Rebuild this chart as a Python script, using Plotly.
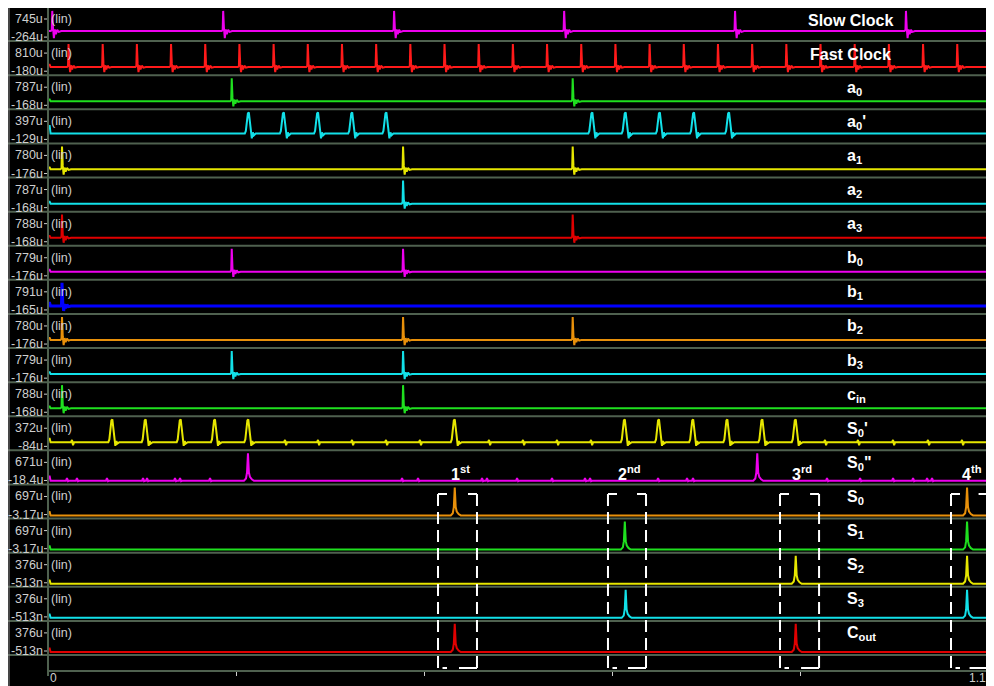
import plotly.graph_objects as go

# ---- data ------------------------------------------------------------------
X_END = 1.1
X_TICKS = [0, 0.22, 0.44, 0.66, 0.88, 1.1]
X_TICK_TEXT = ["0", "", "", "", "", "1.1"]

PANEL_LABELS = [
    "Slow Clock", "Fast Clock", "a<sub>0</sub>", "a<sub>0</sub>'", "a<sub>1</sub>",
    "a<sub>2</sub>", "a<sub>3</sub>", "b<sub>0</sub>", "b<sub>1</sub>", "b<sub>2</sub>",
    "b<sub>3</sub>", "c<sub>in</sub>", "S<sub>0</sub>'", "S<sub>0</sub>\"", "S<sub>0</sub>",
    "S<sub>1</sub>", "S<sub>2</sub>", "S<sub>3</sub>", "C<sub>out</sub>",
]
PANEL_COLORS = [
    "#ee00ee", "#ff1a1a", "#1fe01f", "#12e0e8", "#e6e600",
    "#12e0e8", "#e00000", "#ee00ee", "#0000ff", "#e8900a",
    "#12e0e8", "#1fe01f", "#e6e600", "#ee00ee", "#e8900a",
    "#1fe01f", "#e6e600", "#12e0e8", "#e00000",
]
Y_TOP = [745e-6, 810e-6, 787e-6, 397e-6, 780e-6, 787e-6, 788e-6, 779e-6, 791e-6, 780e-6,
         779e-6, 788e-6, 372e-6, 671e-6, 697e-6, 697e-6, 376e-6, 376e-6, 376e-6]
Y_BOTTOM = [-264e-6, -180e-6, -168e-6, -129e-6, -176e-6, -168e-6, -168e-6, -176e-6, -165e-6,
            -176e-6, -176e-6, -168e-6, -84e-6, -18.4e-6, -3.17e-6, -3.17e-6, -513e-9,
            -513e-9, -513e-9]
Y_TOP_TEXT = ["745u", "810u", "787u", "397u", "780u", "787u", "788u", "779u", "791u", "780u",
              "779u", "788u", "372u", "671u", "697u", "697u", "376u", "376u", "376u"]
Y_BOTTOM_TEXT = ["-264u", "-180u", "-168u", "-129u", "-176u", "-168u", "-168u", "-176u",
                 "-165u", "-176u", "-176u", "-168u", "-84u", "-18.4u", "-3.17u", "-3.17u",
                 "-513n", "-513n", "-513n"]
START_LEVEL = [0.0, 0.1, 0.08, 0.35, 0.08, 0.08, 0.08, 0.08, 0.12, 0.08,
               0.08, 0.08, 0.15, 0.15, 0.12, 0.12, 0.12, 0.12, 0.12]
SPIKE_KIND = ["clock", "clock", "clock", "wide", "clock", "clock", "clock", "clock", "clock",
              "clock", "clock", "clock", "wide", "pulse", "pulse", "pulse", "pulse", "pulse",
              "pulse"]

SLOW_CLOCK = [0.005, 0.205, 0.405, 0.604, 0.804, 1.004]
FAST_CLOCK = [0.024, 0.064, 0.104, 0.144, 0.184, 0.224, 0.264, 0.304, 0.344, 0.384,
              0.424, 0.464, 0.504, 0.544, 0.584, 0.624, 0.664, 0.704, 0.744, 0.784,
              0.824, 0.864, 0.904, 0.944, 0.984, 1.024, 1.064]
A0 = [0.215, 0.614]
A0_P = [0.235, 0.276, 0.316, 0.356, 0.396, 0.637, 0.676, 0.716, 0.756, 0.797]
A1 = [0.0164, 0.4155, 0.614]
A2 = [0.4155]
A3 = [0.0164, 0.614]
B0 = [0.215, 0.4155]
B1 = [0.0164]
B2 = [0.0164, 0.4155, 0.614]
B3 = [0.215, 0.4155]
CIN = [0.0164, 0.4155]
S0_P = [0.0753, 0.1143, 0.1553, 0.1954, 0.2344, 0.476, 0.675, 0.715, 0.755, 0.795,
        0.836, 0.875]
S0_PP = [0.234, 0.830]
S0 = [0.476, 1.0755]
S1 = [0.675, 1.0755]
S2 = [0.875, 1.0755]
S3 = [0.676, 1.0755]
COUT = [0.476, 0.875]
SPIKES = [SLOW_CLOCK, FAST_CLOCK, A0, A0_P, A1, A2, A3, B0, B1, B2, B3, CIN,
          S0_P, S0_PP, S0, S1, S2, S3, COUT]

# small glitches on the intermediate sum signals
S0_P_GLITCH = [0.0281, 0.2774, 0.316, 0.3558, 0.3956, 0.4353, 0.5161, 0.5559, 0.5957,
               0.6355, 0.9093, 0.9479, 0.9889, 1.0298, 1.0696]
S0_PP_GLITCH = [0.0222, 0.0339, 0.069, 0.1112, 0.1159, 0.1486, 0.1545, 0.1896, 0.4143,
                0.433, 0.5079, 0.5137, 0.5489, 0.5898, 0.6284, 0.6343, 0.7139, 0.7478,
                0.7548, 0.9116, 0.9503, 0.9889, 1.0123, 1.0287, 1.0345]
GLITCHES = {12: S0_P_GLITCH, 13: S0_PP_GLITCH}

# pulse shapes: (time offset, fraction of peak; negative = fraction of undershoot)
SHAPES = {
    "clock": [(-0.0018, 0.0), (-0.0006, 0.05), (0.0, 1.0), (0.0009, 0.15), (0.0019, -1.0),
              (0.003, 0.08), (0.0042, -0.45), (0.0058, 0.06), (0.0076, -0.12), (0.0105, 0.0)],
    "wide": [(-0.0047, 0.0), (-0.0035, 0.12), (-0.0023, 0.6), (-0.0011, 0.95), (0.0, 1.0),
             (0.0012, 0.6), (0.0023, 0.12), (0.0035, -0.7), (0.0047, 0.05), (0.006, -0.25),
             (0.0082, 0.0)],
    "pulse": [(-0.0047, 0.0), (-0.0023, 0.08), (-0.0011, 0.3), (0.0, 1.0), (0.0011, 0.3),
              (0.0023, 0.14), (0.0045, 0.05), (0.007, 0.0)],
    "glitch": [(-0.0012, 0.0), (0.0, 0.1), (0.0012, -0.6), (0.0024, 0.0)],
}

# annotation windows (1st..4th)
WINDOWS = [(0.4564, 0.502), (0.6553, 0.6998), (0.8566, 0.9023), (1.0567, 1.0995)]
WINDOW_TEXT = ["1<sup>st</sup>", "2<sup>nd</sup>", "3<sup>rd</sup>", "4<sup>th</sup>"]

# ---- layout geometry ---------------------------------------------------------
# all positions below are page pixels; the html body adds an 8px offset
OFF = 8
W, H = 994 - OFF, 686 - OFF
L, R, T, B = 48, 988, 8, 671          # plot area on the page
PANEL_TOP, PANEL_BOT = 7, 655
PANEL_H = (PANEL_BOT - PANEL_TOP) / 19
LABEL_FONT = dict(family="Liberation Sans", size=12.5, color="#cfcfcf")
NAME_FONT = dict(family="Liberation Sans", size=16, color="white")


def px(x):
    return (x - L) / (R - L)


def py(y):
    return (B - y) / (B - T)


def waveform(i):
    top, bot = Y_TOP[i], Y_BOTTOM[i]
    events = [(t, SPIKE_KIND[i]) for t in SPIKES[i]]
    events += [(t, "glitch") for t in GLITCHES.get(i, [])]
    xs = [0.0, 0.002, 0.003]
    ys = [START_LEVEL[i] * top] * 2 + [0.0]
    for t, kind in sorted(events):
        for dt, v in SHAPES[kind]:
            xs.append(t + dt)
            ys.append(v * top if v >= 0 else -v * bot)
    xs.append(X_END)
    ys.append(0.0)
    return xs, ys


fig = go.Figure()
layout = {}
shapes = []
annotations = []
grid = "#4f614f"
gray = "#cfcfcf"

for i in range(19):
    xs, ys = waveform(i)
    fig.add_trace(go.Scatter(
        x=xs, y=ys, mode="lines", xaxis="x", yaxis=f"y{i + 1}",
        line=dict(color=PANEL_COLORS[i], width=3 if i == 8 else 2),
        hoverinfo="skip", showlegend=False,
    ))
    top_px = PANEL_TOP + PANEL_H * i
    bot_px = top_px + PANEL_H
    span = Y_TOP[i] - Y_BOTTOM[i]
    pad = span * 3 / (PANEL_H - 6)
    layout[f"yaxis{i + 1}"] = dict(
        domain=[max(py(bot_px), 0), min(py(top_px), 1)],
        range=[Y_BOTTOM[i] - pad, Y_TOP[i] + pad],
        anchor="x", visible=False, fixedrange=True,
    )
    # separator under the panel
    shapes.append(dict(type="line", xref="paper", yref="paper", x0=px(8), x1=1,
                       y0=py(bot_px), y1=py(bot_px), line=dict(color=grid, width=2)))
    # left value labels with small ticks
    for val_txt, ypix in ((Y_TOP_TEXT[i], top_px + 12), (Y_BOTTOM_TEXT[i], bot_px - 4)):
        annotations.append(dict(xref="paper", yref="paper", x=px(45), y=py(ypix),
                                text=val_txt, showarrow=False, xanchor="right",
                                yanchor="middle", font=LABEL_FONT))
        shapes.append(dict(type="line", xref="paper", yref="paper", x0=px(44), x1=0,
                           y0=py(ypix), y1=py(ypix), line=dict(color=gray, width=1)))
    annotations.append(dict(xref="paper", yref="paper", x=px(49), y=py(top_px + 12),
                            text="(lin)", showarrow=False, xanchor="left", yanchor="middle",
                            font=LABEL_FONT))
    clock = i < 2
    annotations.append(dict(xref="paper", yref="paper",
                            x=px(850 if clock else 845), y=py(top_px + 13),
                            text=f"<b>{PANEL_LABELS[i]}</b>", showarrow=False,
                            xanchor="center" if clock else "left", yanchor="middle",
                            font=NAME_FONT))

# time-axis labels sit inside the frame, flush with its ends
for xv, txt in zip(X_TICKS, X_TICK_TEXT):
    if txt:
        annotations.append(dict(xref="x", yref="paper", x=xv, y=py(678), text=txt,
                                showarrow=False, yanchor="middle",
                                xanchor="left" if xv == 0 else "right",
                                font=dict(family="Liberation Sans", size=12,
                                          color="#cfcfcf")))

# black frame, top border and vertical borders
shapes.insert(0, dict(type="rect", xref="paper", yref="paper", x0=px(8), x1=px(990),
                      y0=py(700), y1=py(0), fillcolor="black", line=dict(width=0),
                      layer="below"))
shapes += [
    dict(type="line", xref="paper", yref="paper", x0=px(8), x1=1, y0=py(PANEL_TOP),
         y1=py(PANEL_TOP), line=dict(color=grid, width=2)),
    dict(type="line", xref="paper", yref="paper", x0=0, x1=0, y0=py(676), y1=py(PANEL_TOP),
         line=dict(color=grid, width=2)),
    dict(type="line", xref="paper", yref="paper", x0=px(9), x1=px(9), y0=py(700),
         y1=py(PANEL_TOP), line=dict(color="#8a8a8a", width=1)),
    dict(type="line", xref="paper", yref="paper", x0=1, x1=1, y0=py(672), y1=py(PANEL_TOP),
         line=dict(color="#8f9a8f", width=2)),
]

# dashed windows around the four result pulses
win_top, win_bot = py(494), py(668)
seg = 9 / (R - L) * X_END
dash = dict(color="white", width=2, dash="12px,6px")
solid = dict(color="white", width=2)
for (x0, x1), txt in zip(WINDOWS, WINDOW_TEXT):
    shapes += [
        dict(type="line", xref="x", yref="paper", x0=x0, x1=x0, y0=win_bot, y1=win_top,
             line=dash),
        dict(type="line", xref="x", yref="paper", x0=x1, x1=x1, y0=win_bot, y1=win_top,
             line=dash),
        dict(type="line", xref="x", yref="paper", x0=x0, x1=x0 + seg, y0=win_top,
             y1=win_top, line=solid),
        dict(type="line", xref="x", yref="paper", x0=x1 - seg, x1=x1, y0=win_top,
             y1=win_top, line=solid),
        dict(type="line", xref="x", yref="paper", x0=x0 + seg * 0.5, x1=x0 + seg,
             y0=win_bot, y1=win_bot, line=solid),
        dict(type="line", xref="x", yref="paper", x0=x1 - 2 * seg, x1=x1, y0=win_bot,
             y1=win_bot, line=solid),
    ]
    annotations.append(dict(xref="x", yref="paper", x=(x0 + x1) / 2 + 0.003, y=py(473),
                            text=f"<b>{txt}</b>", showarrow=False, xanchor="center",
                            yanchor="middle", font=NAME_FONT))

fig.update_layout(
    width=W, height=H,
    margin=dict(l=L - OFF, r=W - (R - OFF), t=T - OFF, b=H - (B - OFF)),
    paper_bgcolor="white", plot_bgcolor="black",
    xaxis=dict(range=[0, X_END], anchor="free", position=0, side="bottom",
               tickvals=X_TICKS, showticklabels=False,
               ticks="outside", ticklen=4, tickcolor=gray, showgrid=False, zeroline=False,
               showline=True, linecolor=grid, linewidth=2, fixedrange=True),
    shapes=shapes, annotations=annotations,
    **layout,
)

fig.write_html("out.html")
